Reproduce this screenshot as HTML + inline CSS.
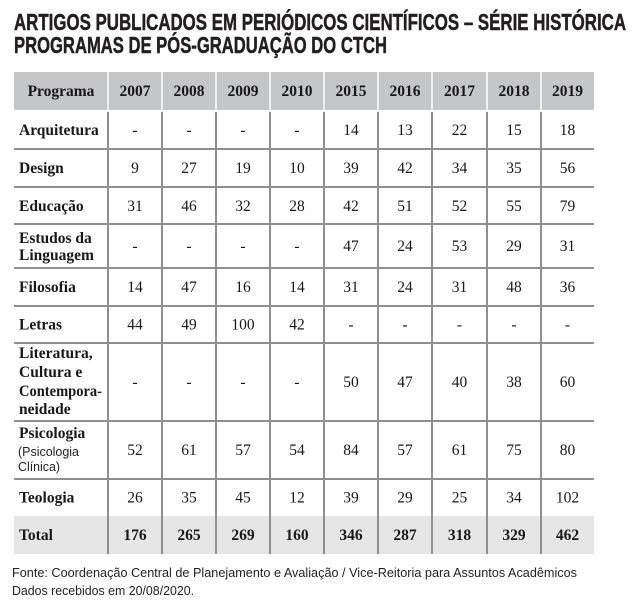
<!DOCTYPE html>
<html>
<head>
<meta charset="utf-8">
<style>
html,body{margin:0;padding:0;background:#fff;}
svg{display:block;}
.t{font-family:"Liberation Sans",sans-serif;font-weight:bold;fill:#231f20;stroke:#231f20;stroke-width:0.5;}
.s{font-family:"Liberation Serif",serif;fill:#1a1718;font-size:15.5px;}
.b{font-weight:bold;}
.n{font-family:"Liberation Sans",sans-serif;fill:#231f20;}
</style>
</head>
<body>
<svg width="639" height="604" viewBox="0 0 639 604" xmlns="http://www.w3.org/2000/svg">
<rect width="639" height="604" fill="#fff"/>
<!-- Title -->
<text class="t" x="14" y="30" font-size="23.5" textLength="612" lengthAdjust="spacingAndGlyphs">ARTIGOS PUBLICADOS EM PERIÓDICOS CIENTÍFICOS – SÉRIE HISTÓRICA</text>
<text class="t" x="14" y="53" font-size="23.5" textLength="373" lengthAdjust="spacingAndGlyphs">PROGRAMAS DE PÓS-GRADUAÇÃO DO CTCH</text>

<!-- header bg -->
<rect x="14" y="72" width="580" height="38" fill="#c5c6c8"/>
<!-- total bg -->
<rect x="14" y="516" width="580" height="38" fill="#e6e6e7"/>
<!-- header white separators -->
<g stroke="#fff" stroke-width="1.5">
<line x1="108" y1="72" x2="108" y2="110"/><line x1="162" y1="72" x2="162" y2="110"/>
<line x1="216" y1="72" x2="216" y2="110"/><line x1="270" y1="72" x2="270" y2="110"/>
<line x1="324" y1="72" x2="324" y2="110"/><line x1="378" y1="72" x2="378" y2="110"/>
<line x1="432" y1="72" x2="432" y2="110"/><line x1="487" y1="72" x2="487" y2="110"/>
<line x1="541" y1="72" x2="541" y2="110"/>
</g>
<!-- body grid -->
<g stroke="#8e8f91" stroke-width="2">
<line x1="108" y1="112" x2="108" y2="554"/><line x1="162" y1="112" x2="162" y2="554"/>
<line x1="216" y1="112" x2="216" y2="554"/><line x1="270" y1="112" x2="270" y2="554"/>
<line x1="324" y1="112" x2="324" y2="554"/><line x1="378" y1="112" x2="378" y2="554"/>
<line x1="432" y1="112" x2="432" y2="554"/><line x1="487" y1="112" x2="487" y2="554"/>
<line x1="541" y1="112" x2="541" y2="554"/>
<line x1="14" y1="149" x2="594" y2="149"/><line x1="14" y1="187" x2="594" y2="187"/>
<line x1="14" y1="224" x2="594" y2="224"/><line x1="14" y1="268" x2="594" y2="268"/>
<line x1="14" y1="306" x2="594" y2="306"/><line x1="14" y1="343" x2="594" y2="343"/>
<line x1="14" y1="421" x2="594" y2="421"/><line x1="14" y1="479" x2="594" y2="479"/>
</g>

<!-- header text -->
<g class="s b" text-anchor="middle">
<text x="61" y="96">Programa</text>
<text x="135" y="96">2007</text><text x="189" y="96">2008</text><text x="243" y="96">2009</text>
<text x="297" y="96">2010</text><text x="351" y="96">2015</text><text x="405" y="96">2016</text>
<text x="459.5" y="96">2017</text><text x="514" y="96">2018</text><text x="567.5" y="96">2019</text>
</g>

<!-- row labels -->
<g class="s b">
<text x="19" y="135">Arquitetura</text>
<text x="19" y="173">Design</text>
<text x="19" y="211">Educação</text>
<text x="19" y="243">Estudos da</text>
<text x="19" y="260">Linguagem</text>
<text x="19" y="292">Filosofia</text>
<text x="19" y="329.5">Letras</text>
<text x="19" y="358">Literatura,</text>
<text x="19" y="377">Cultura e</text>
<text x="19" y="396" textLength="83" lengthAdjust="spacingAndGlyphs">Contempora-</text>
<text x="19" y="414">neidade</text>
<text x="19" y="438">Psicologia</text>
<text x="19" y="502.5">Teologia</text>
<text x="19" y="540">Total</text>
</g>
<text class="n" x="18" y="456" font-size="12.5" textLength="61" lengthAdjust="spacingAndGlyphs">(Psicologia</text>
<text class="n" x="18" y="471" font-size="12.5" textLength="42" lengthAdjust="spacingAndGlyphs">Clínica)</text>

<!-- data -->
<g class="s" text-anchor="middle">
<text x="135" y="135">-</text><text x="189" y="135">-</text><text x="243" y="135">-</text><text x="297" y="135">-</text>
<text x="351" y="135">14</text><text x="405" y="135">13</text><text x="459.5" y="135">22</text><text x="514" y="135">15</text><text x="567.5" y="135">18</text>
<text x="135" y="173">9</text><text x="189" y="173">27</text><text x="243" y="173">19</text><text x="297" y="173">10</text>
<text x="351" y="173">39</text><text x="405" y="173">42</text><text x="459.5" y="173">34</text><text x="514" y="173">35</text><text x="567.5" y="173">56</text>
<text x="135" y="211">31</text><text x="189" y="211">46</text><text x="243" y="211">32</text><text x="297" y="211">28</text>
<text x="351" y="211">42</text><text x="405" y="211">51</text><text x="459.5" y="211">52</text><text x="514" y="211">55</text><text x="567.5" y="211">79</text>
<text x="135" y="251">-</text><text x="189" y="251">-</text><text x="243" y="251">-</text><text x="297" y="251">-</text>
<text x="351" y="251">47</text><text x="405" y="251">24</text><text x="459.5" y="251">53</text><text x="514" y="251">29</text><text x="567.5" y="251">31</text>
<text x="135" y="292">14</text><text x="189" y="292">47</text><text x="243" y="292">16</text><text x="297" y="292">14</text>
<text x="351" y="292">31</text><text x="405" y="292">24</text><text x="459.5" y="292">31</text><text x="514" y="292">48</text><text x="567.5" y="292">36</text>
<text x="135" y="329.5">44</text><text x="189" y="329.5">49</text><text x="243" y="329.5">100</text><text x="297" y="329.5">42</text>
<text x="351" y="329.5">-</text><text x="405" y="329.5">-</text><text x="459.5" y="329.5">-</text><text x="514" y="329.5">-</text><text x="567.5" y="329.5">-</text>
<text x="135" y="387">-</text><text x="189" y="387">-</text><text x="243" y="387">-</text><text x="297" y="387">-</text>
<text x="351" y="387">50</text><text x="405" y="387">47</text><text x="459.5" y="387">40</text><text x="514" y="387">38</text><text x="567.5" y="387">60</text>
<text x="135" y="455">52</text><text x="189" y="455">61</text><text x="243" y="455">57</text><text x="297" y="455">54</text>
<text x="351" y="455">84</text><text x="405" y="455">57</text><text x="459.5" y="455">61</text><text x="514" y="455">75</text><text x="567.5" y="455">80</text>
<text x="135" y="502.5">26</text><text x="189" y="502.5">35</text><text x="243" y="502.5">45</text><text x="297" y="502.5">12</text>
<text x="351" y="502.5">39</text><text x="405" y="502.5">29</text><text x="459.5" y="502.5">25</text><text x="514" y="502.5">34</text><text x="567.5" y="502.5">102</text>
</g>
<g class="s b" text-anchor="middle">
<text x="135" y="540">176</text><text x="189" y="540">265</text><text x="243" y="540">269</text><text x="297" y="540">160</text>
<text x="351" y="540">346</text><text x="405" y="540">287</text><text x="459.5" y="540">318</text><text x="514" y="540">329</text><text x="567.5" y="540">462</text>
</g>

<!-- footer -->
<text class="n" x="12" y="577" font-size="13" textLength="565" lengthAdjust="spacingAndGlyphs">Fonte: Coordenação Central de Planejamento e Avaliação / Vice-Reitoria para Assuntos Acadêmicos</text>
<text class="n" x="12" y="595" font-size="13" textLength="182" lengthAdjust="spacingAndGlyphs">Dados recebidos em 20/08/2020.</text>
</svg>
</body>
</html>
